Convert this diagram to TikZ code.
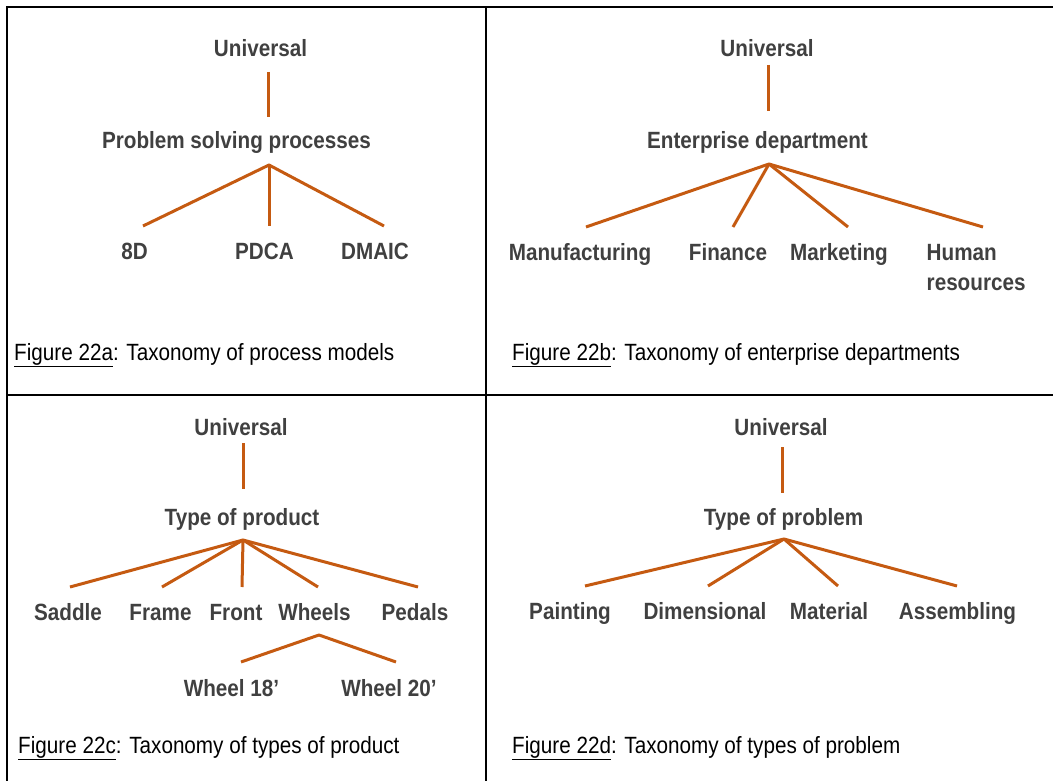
\documentclass[tikz,border=0pt]{standalone}
\usepackage{fontspec}
\setmainfont[FakeStretch=0.88]{Liberation Sans}
\definecolor{labgray}{HTML}{404040}
\definecolor{linkor}{HTML}{C55A11}
\begin{document}
\begin{tikzpicture}[x=1pt,y=-1pt,
  lab/.style={font=\fontsize{23.5}{28}\selectfont\bfseries, text=labgray, inner sep=0pt, anchor=base},
  labl/.style={lab, anchor=base west},
  captext/.style={font=\fontsize{23.5}{28}\selectfont, text=black, inner sep=0pt, anchor=base west},
  link/.style={draw=linkor, line width=3pt},
  frame/.style={draw=black, line width=2pt}]
\useasboundingbox (0,0) rectangle (1053,781);
% frame
\draw[frame] (7,781) -- (7,7) -- (1053,7);
\draw[frame] (486,7) -- (486,781);
\draw[frame] (7,395) -- (1053,395);

% ---- panel a
\node[lab] (ua) at (260.5,57) {Universal};
\node[lab] (pa) at (236.5,149) {Problem solving processes};
\node[lab] (a8d) at (134.5,259) {8D};
\node[lab] (apdca) at (264.5,259) {PDCA};
\node[lab] (admaic) at (375,259) {DMAIC};
\coordinate (ua-s) at (268,72);
\coordinate (pa-n) at (268,117);
\coordinate (pa-s) at (269,165);
\coordinate (a8d-n) at (143,226);
\coordinate (apdca-n) at (269,226);
\coordinate (admaic-n) at (384,226);
\draw[link] (ua-s) -- (pa-n);
\draw[link,line join=round] (a8d-n) -- (pa-s) -- (admaic-n);
\draw[link] (pa-s) -- (apdca-n);
\node[captext] (capa) at (14,360) {\underline{Figure 22a}: Taxonomy of process models};

% ---- panel b
\node[lab] (ub) at (767,57) {Universal};
\node[lab] (eb) at (757.5,149) {Enterprise department};
\node[lab] (bman) at (580,260) {Manufacturing};
\node[lab] (bfin) at (728,260) {Finance};
\node[lab] (bmar) at (839,260) {Marketing};
\node[labl] (bhum) at (926.5,260) {Human};
\node[labl] (bres) at (926.5,290) {resources};
\coordinate (ub-s) at (768,65);
\coordinate (eb-n) at (768,111);
\coordinate (eb-s) at (769,164);
\coordinate (bman-n) at (586,227);
\coordinate (bfin-n) at (733,227);
\coordinate (bmar-n) at (848,227);
\coordinate (bhum-n) at (983,227);
\draw[link] (ub-s) -- (eb-n);
\draw[link,line join=round] (bman-n) -- (eb-s) -- (bhum-n);
\draw[link] (eb-s) -- (bfin-n);
\draw[link] (eb-s) -- (bmar-n);
\node[captext] (capb) at (512,360) {\underline{Figure 22b}: Taxonomy of enterprise departments};

% ---- panel c
\node[lab] (uc) at (241,435) {Universal};
\node[lab] (tc) at (242,525) {Type of product};
\node[lab] (csad) at (68,620) {Saddle};
\node[lab] (cfra) at (160.5,620) {Frame};
\node[lab] (cfro) at (236,620) {Front};
\node[lab] (cwhe) at (314.5,620) {Wheels};
\node[lab] (cped) at (415,620) {Pedals};
\node[lab] (cw18) at (231.5,696) {Wheel 18’};
\node[lab] (cw20) at (389,696) {Wheel 20’};
\coordinate (uc-s) at (243,443);
\coordinate (tc-n) at (243,489);
\coordinate (tc-s) at (243,540);
\coordinate (csad-n) at (70,587);
\coordinate (cfra-n) at (162,587);
\coordinate (cfro-n) at (242,587);
\coordinate (cwhe-n) at (318,587);
\coordinate (cped-n) at (418,587);
\coordinate (cwhe-s) at (319,635);
\coordinate (cw18-n) at (241,662);
\coordinate (cw20-n) at (396,662);
\draw[link] (uc-s) -- (tc-n);
\draw[link,line join=round] (csad-n) -- (tc-s) -- (cped-n);
\draw[link] (tc-s) -- (cfra-n);
\draw[link] (tc-s) -- (cfro-n);
\draw[link] (tc-s) -- (cwhe-n);
\draw[link,line join=round] (cw18-n) -- (cwhe-s) -- (cw20-n);
\node[captext] (capc) at (18,753) {\underline{Figure 22c}: Taxonomy of types of product};

% ---- panel d
\node[lab] (ud) at (781,435) {Universal};
\node[lab] (td) at (783.5,525) {Type of problem};
\node[lab] (dpai) at (570,619) {Painting};
\node[lab] (ddim) at (705,619) {Dimensional};
\node[lab] (dmat) at (829,619) {Material};
\node[lab] (dass) at (957.5,619) {Assembling};
\coordinate (ud-s) at (782,447);
\coordinate (td-n) at (782,493);
\coordinate (td-s) at (784,539);
\coordinate (dpai-n) at (585,586);
\coordinate (ddim-n) at (708,586);
\coordinate (dmat-n) at (838,586);
\coordinate (dass-n) at (957,586);
\draw[link] (ud-s) -- (td-n);
\draw[link,line join=round] (dpai-n) -- (td-s) -- (dass-n);
\draw[link] (td-s) -- (ddim-n);
\draw[link] (td-s) -- (dmat-n);
\node[captext] (capd) at (512,753) {\underline{Figure 22d}: Taxonomy of types of problem};
\end{tikzpicture}
\end{document}
